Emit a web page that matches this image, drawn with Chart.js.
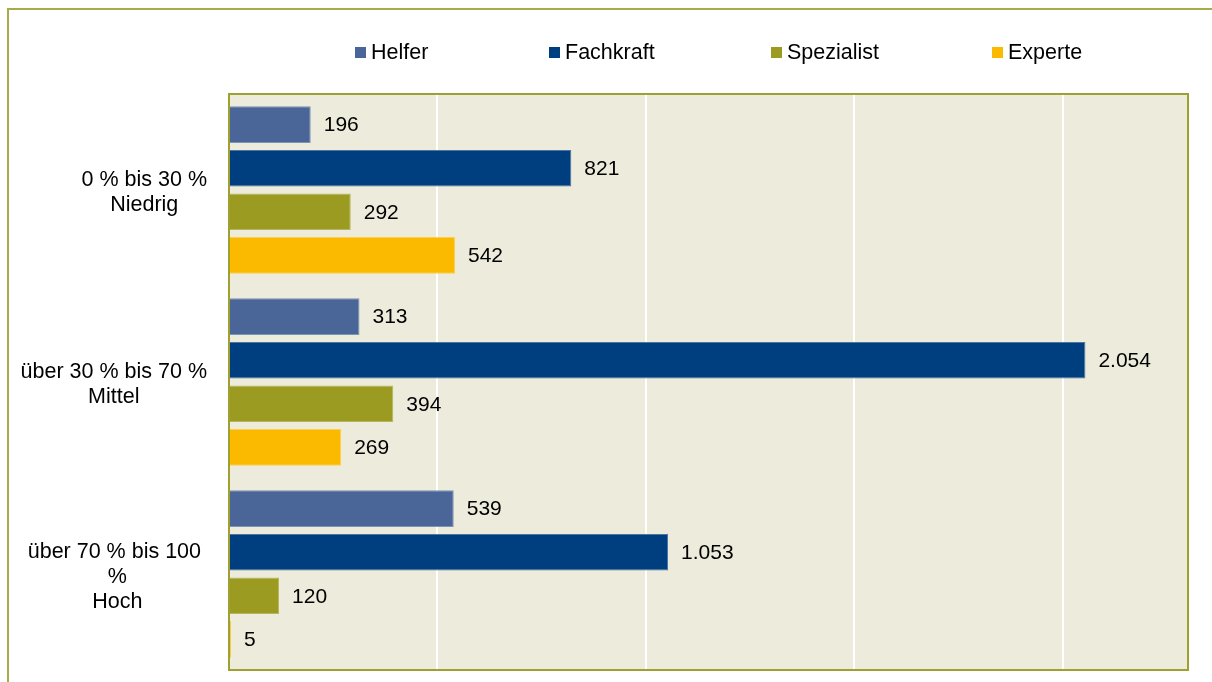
<!DOCTYPE html>
<html>
<head>
<meta charset="utf-8">
<script src="https://cdn.jsdelivr.net/npm/chart.js@4"></script>
<style>
  html, body { margin: 0; padding: 0; background: #fff; overflow: hidden; }
  #wrap { position: relative; width: 1212px; height: 682px; overflow: hidden; }
  #frame { position: absolute; left: 7px; top: 8px; width: 1300px; height: 800px;
           border-left: 2px solid #A7AB4B; border-top: 2px solid #A7AB4B; }
  #bpChart { position: absolute; left: 0; top: 0; }
  .legend-item { position: absolute; top: 40px; font: 21.5px "Liberation Sans", Arial, sans-serif;
                 color: #000; line-height: 24px; white-space: nowrap; }
  .legend-item span { display: inline-block; width: 11px; height: 11px; margin-right: 5px;
                      vertical-align: 1px; }
</style>
</head>
<body>
<div id="wrap">
  <div id="frame"></div>
  <canvas id="bpChart" width="1212" height="682"></canvas>
  <div id="legend"></div>
</div>
<script>
// --- Data ---
const categories = [
    ['0 % bis 30 %', 'Niedrig'],
    ['über 30 % bis 70 %', 'Mittel'],
    ['über 70 % bis 100 ', '%', 'Hoch']
];
const seriesNames = ['Helfer', 'Fachkraft', 'Spezialist', 'Experte'];
const helfer = [196, 313, 539];
const fachkraft = [821, 2054, 1053];
const spezialist = [292, 394, 120];
const experte = [542, 269, 5];
const xTickValues = [0, 500, 1000, 1500, 2000, 2300];
const xAxisMax = 2300;

const seriesColors = ['#4A6699', '#003F7F', '#9A9B20', '#FBBA00'];
const seriesEdges = ['#7F93B8', '#4D75A0', '#B5B65E', '#FCCF4D'];
const legendLeft = [355, 549, 771, 992];

const FONT = '"Liberation Sans", Arial, sans-serif';

// German number format: 2054 -> 2.054
function fmt(v) {
    return String(v).replace(/\B(?=(\d{3})+(?!\d))/g, '.');
}

// --- Legend (Excel-like spacing, so built by hand) ---
const legendEl = document.getElementById('legend');
seriesNames.forEach((name, i) => {
    const d = document.createElement('div');
    d.className = 'legend-item';
    d.style.left = legendLeft[i] + 'px';
    d.innerHTML = '<span style="background:' + seriesColors[i] + '"></span>' + name;
    legendEl.appendChild(d);
});

// plot background + border
const plotFrame = {
    id: 'plotFrame',
    beforeDraw(chart) {
        const a = chart.chartArea, ctx = chart.ctx;
        ctx.save();
        ctx.fillStyle = '#EDEBDB';
        ctx.fillRect(a.left, a.top, a.right - a.left, a.bottom - a.top);
        ctx.restore();
    },
    afterDatasetsDraw(chart) {
        const a = chart.chartArea, ctx = chart.ctx;
        ctx.save();
        ctx.strokeStyle = '#9EA12F';
        ctx.lineWidth = 2;
        ctx.strokeRect(a.left, a.top, a.right - a.left, a.bottom - a.top);
        ctx.restore();
    }
};

// value labels right of each bar
const valueLabels = {
    id: 'valueLabels',
    afterDatasetsDraw(chart) {
        const ctx = chart.ctx;
        ctx.save();
        ctx.font = '21px ' + FONT;
        ctx.fillStyle = '#000';
        ctx.textAlign = 'left';
        ctx.textBaseline = 'middle';
        chart.data.datasets.forEach((ds, di) => {
            chart.getDatasetMeta(di).data.forEach((bar, i) => {
                ctx.fillText(fmt(ds.data[i]), bar.x + 13, bar.y + 1);
            });
        });
        ctx.restore();
    }
};

// category labels: block right-aligned to the axis, lines centred inside
const categoryLabels = {
    id: 'categoryLabels',
    afterDraw(chart) {
        const ctx = chart.ctx, y = chart.scales.y;
        ctx.save();
        ctx.font = '21.5px ' + FONT;
        ctx.fillStyle = '#000';
        ctx.textAlign = 'center';
        ctx.textBaseline = 'middle';
        const lineH = 25;
        categories.forEach((lines, i) => {
            const w = Math.max(...lines.map(l => ctx.measureText(l).width));
            const cx = 207 - w / 2;
            const cy = y.getPixelForValue(i) + 3;
            lines.forEach((l, k) => {
                ctx.fillText(l, cx, cy + (k - (lines.length - 1) / 2) * lineH);
            });
        });
        ctx.restore();
    }
};

const datasets = [helfer, fachkraft, spezialist, experte].map((vals, i) => ({
    label: seriesNames[i],
    data: vals,
    backgroundColor: seriesColors[i],
    borderColor: seriesEdges[i],
    borderWidth: 1,
    categoryPercentage: 0.907,
    barPercentage: 0.843
}));

new Chart(document.getElementById('bpChart'), {
    type: 'bar',
    data: { labels: categories.map(c => c.join(' ')), datasets: datasets },
    options: {
        indexAxis: 'y',
        responsive: false,
        animation: false,
        layout: { padding: { left: 10, top: 94, right: 24, bottom: 12 } },
        plugins: {
            legend: { display: false },
            tooltip: { enabled: false }
        },
        scales: {
            x: {
                min: 0,
                max: xAxisMax,
                ticks: { display: false },
                afterBuildTicks: s => { s.ticks = xTickValues.map(v => ({ value: v })); },
                border: { display: false },
                grid: {
                    drawTicks: false,
                    lineWidth: 2,
                    color: c => (c.tick && c.tick.value > 0 && c.tick.value < xAxisMax) ? '#FFFFFF' : 'rgba(0,0,0,0)'
                },
                afterFit: s => { s.height = 0; }
            },
            y: {
                ticks: { display: false },
                grid: { display: false },
                border: { display: false },
                afterFit: s => { s.width = 219; }
            }
        }
    },
    plugins: [plotFrame, valueLabels, categoryLabels]
});
</script>
</body>
</html>
